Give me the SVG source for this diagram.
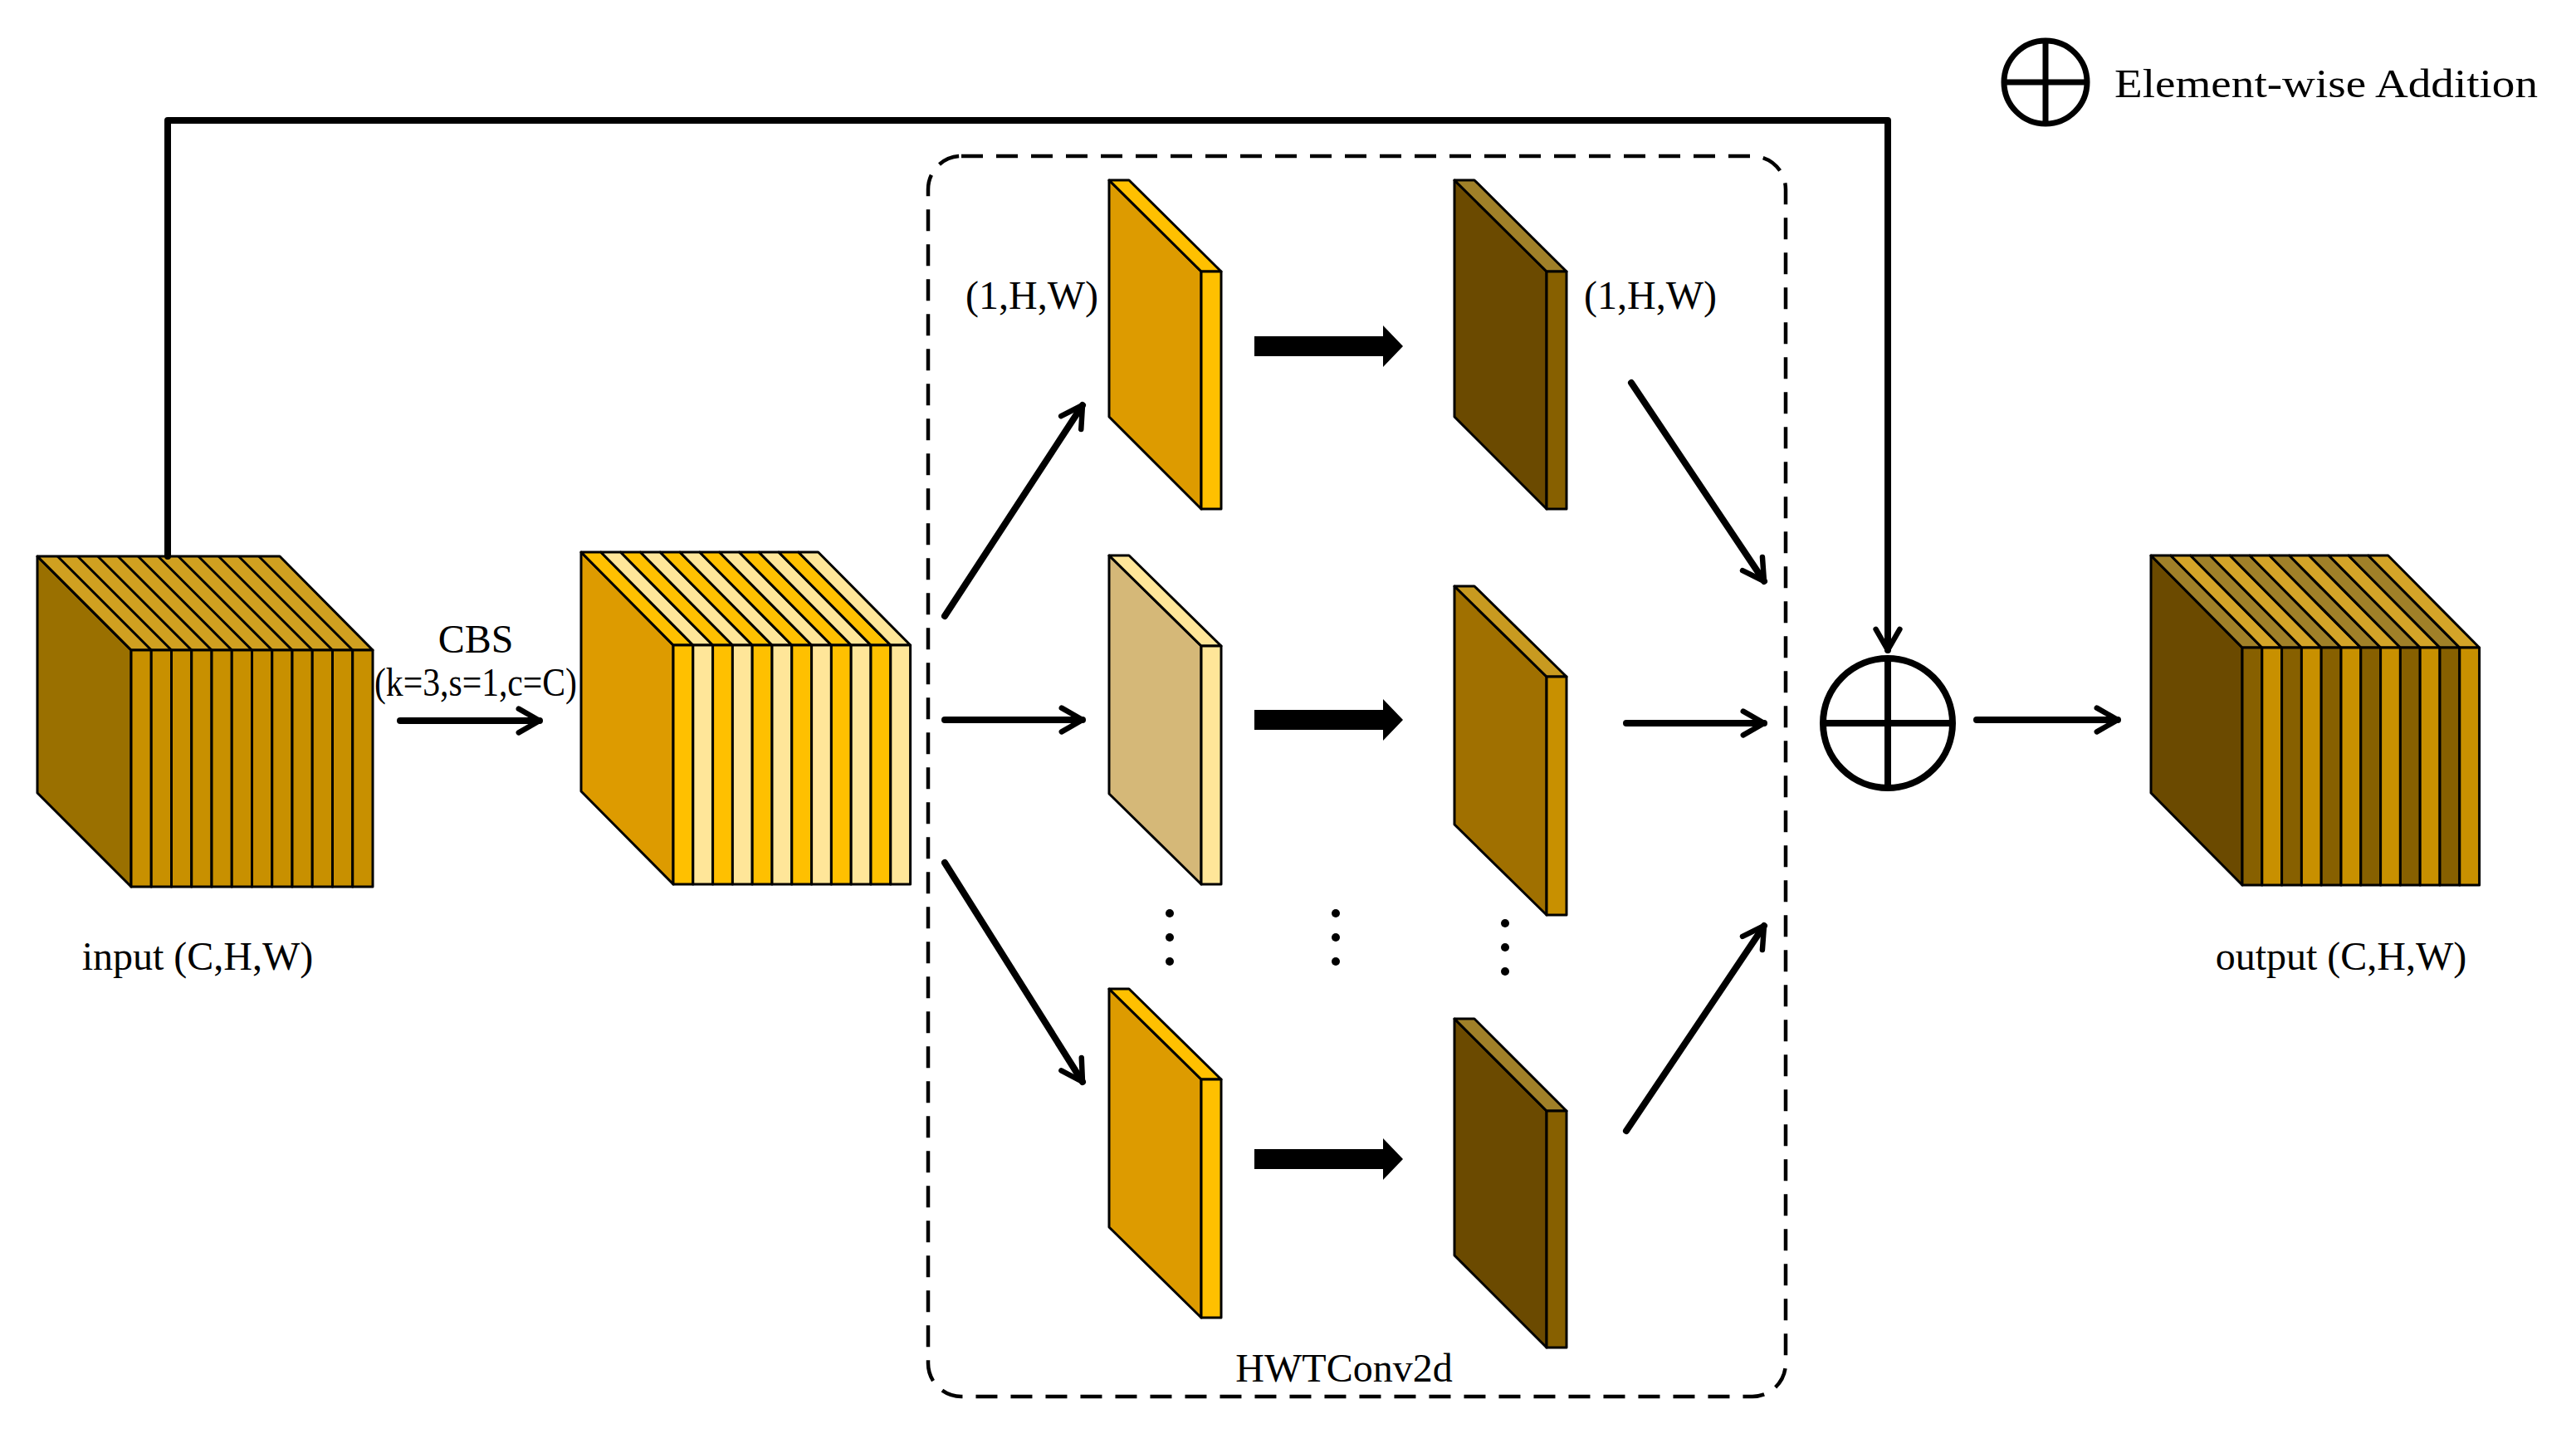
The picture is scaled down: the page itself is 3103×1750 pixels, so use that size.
<svg xmlns="http://www.w3.org/2000/svg" width="3103" height="1750" viewBox="0 0 3103 1750">
<style>
.s{stroke:#000;stroke-width:3;stroke-linejoin:round}
.t{font-family:"Liberation Serif",serif;font-size:48px;fill:#000}
.ar{fill:none;stroke:#000;stroke-width:8;stroke-linecap:round;stroke-linejoin:round}
</style>
<defs>
<marker id="ah" viewBox="0 0 10 10" refX="8" refY="5" markerWidth="4.5" markerHeight="4.5" orient="auto" markerUnits="strokeWidth">
<path d="M1,1 L8,5 L1,9" fill="none" stroke="#000" stroke-width="1.8" stroke-linecap="round" stroke-linejoin="round"/>
</marker>
</defs>
<rect width="3103" height="1750" fill="#fff"/>

<g id="input">
<path class="s" fill="#9a7000" d="M45,670 L158,783 L158,1068 L45,955 Z"/>
<path class="s" fill="#d0a020" d="M45,670 L337,670 L449,783 L158,783 Z"/>
<g class="s" fill="#c89000">
<rect x="158" y="783" width="24.25" height="285"/><rect x="182.25" y="783" width="24.25" height="285"/><rect x="206.5" y="783" width="24.25" height="285"/><rect x="230.75" y="783" width="24.25" height="285"/><rect x="255" y="783" width="24.25" height="285"/><rect x="279.25" y="783" width="24.25" height="285"/><rect x="303.5" y="783" width="24.25" height="285"/><rect x="327.75" y="783" width="24.25" height="285"/><rect x="352" y="783" width="24.25" height="285"/><rect x="376.25" y="783" width="24.25" height="285"/><rect x="400.5" y="783" width="24.25" height="285"/><rect x="424.75" y="783" width="24.25" height="285"/>
</g>
<path class="s" fill="none" d="M69.3,670 L182.25,783 M93.5,670 L206.5,783 M117.8,670 L230.75,783 M142,670 L255,783 M166.3,670 L279.25,783 M190.5,670 L303.5,783 M214.8,670 L327.75,783 M239,670 L352,783 M263.3,670 L376.25,783 M287.5,670 L400.5,783 M311.8,670 L424.75,783"/>
<text class="t" x="238" y="1168" text-anchor="middle">input (C,H,W)</text>
</g>

<g id="cbs">
<path class="s" fill="#dd9b00" d="M700,665 L811,777 L811,1065 L700,953 Z"/>
<g class="s">
<path fill="#ffc000" d="M700,665 L723.8,665 L834.8,777 L811,777 Z"/><path fill="#ffe699" d="M723.8,665 L747.6,665 L858.6,777 L834.8,777 Z"/>
<path fill="#ffc000" d="M747.6,665 L771.4,665 L882.4,777 L858.6,777 Z"/><path fill="#ffe699" d="M771.4,665 L795.2,665 L906.2,777 L882.4,777 Z"/>
<path fill="#ffc000" d="M795.2,665 L819,665 L930,777 L906.2,777 Z"/><path fill="#ffe699" d="M819,665 L842.8,665 L953.8,777 L930,777 Z"/>
<path fill="#ffc000" d="M842.8,665 L866.6,665 L977.6,777 L953.8,777 Z"/><path fill="#ffe699" d="M866.6,665 L890.4,665 L1001.4,777 L977.6,777 Z"/>
<path fill="#ffc000" d="M890.4,665 L914.2,665 L1025.2,777 L1001.4,777 Z"/><path fill="#ffe699" d="M914.2,665 L938,665 L1049,777 L1025.2,777 Z"/>
<path fill="#ffc000" d="M938,665 L961.8,665 L1072.8,777 L1049,777 Z"/><path fill="#ffe699" d="M961.8,665 L985.6,665 L1096.6,777 L1072.8,777 Z"/>
<rect fill="#ffc000" x="811" y="777" width="23.8" height="288"/><rect fill="#ffe699" x="834.8" y="777" width="23.8" height="288"/>
<rect fill="#ffc000" x="858.6" y="777" width="23.8" height="288"/><rect fill="#ffe699" x="882.4" y="777" width="23.8" height="288"/>
<rect fill="#ffc000" x="906.2" y="777" width="23.8" height="288"/><rect fill="#ffe699" x="930" y="777" width="23.8" height="288"/>
<rect fill="#ffc000" x="953.8" y="777" width="23.8" height="288"/><rect fill="#ffe699" x="977.6" y="777" width="23.8" height="288"/>
<rect fill="#ffc000" x="1001.4" y="777" width="23.8" height="288"/><rect fill="#ffe699" x="1025.2" y="777" width="23.8" height="288"/>
<rect fill="#ffc000" x="1049" y="777" width="23.8" height="288"/><rect fill="#ffe699" x="1072.8" y="777" width="23.8" height="288"/>
</g>
</g>

<g id="output">
<path class="s" fill="#6b4a00" d="M2591,669 L2701,780 L2701,1066 L2591,955 Z"/>
<g class="s">
<path fill="#a08028" d="M2591,669 L2614.8,669 L2724.8,780 L2701,780 Z"/><path fill="#d4a428" d="M2614.8,669 L2638.6,669 L2748.6,780 L2724.8,780 Z"/>
<path fill="#a08028" d="M2638.6,669 L2662.4,669 L2772.4,780 L2748.6,780 Z"/><path fill="#d4a428" d="M2662.4,669 L2686.2,669 L2796.2,780 L2772.4,780 Z"/>
<path fill="#a08028" d="M2686.2,669 L2710,669 L2820,780 L2796.2,780 Z"/><path fill="#d4a428" d="M2710,669 L2733.8,669 L2843.8,780 L2820,780 Z"/>
<path fill="#a08028" d="M2733.8,669 L2757.6,669 L2867.6,780 L2843.8,780 Z"/><path fill="#d4a428" d="M2757.6,669 L2781.4,669 L2891.4,780 L2867.6,780 Z"/>
<path fill="#a08028" d="M2781.4,669 L2805.2,669 L2915.2,780 L2891.4,780 Z"/><path fill="#d4a428" d="M2805.2,669 L2829,669 L2939,780 L2915.2,780 Z"/>
<path fill="#a08028" d="M2829,669 L2852.8,669 L2962.8,780 L2939,780 Z"/><path fill="#d4a428" d="M2852.8,669 L2876.6,669 L2986.6,780 L2962.8,780 Z"/>
<rect fill="#876000" x="2701" y="780" width="23.8" height="286"/><rect fill="#c89000" x="2724.8" y="780" width="23.8" height="286"/>
<rect fill="#876000" x="2748.6" y="780" width="23.8" height="286"/><rect fill="#c89000" x="2772.4" y="780" width="23.8" height="286"/>
<rect fill="#876000" x="2796.2" y="780" width="23.8" height="286"/><rect fill="#c89000" x="2820" y="780" width="23.8" height="286"/>
<rect fill="#876000" x="2843.8" y="780" width="23.8" height="286"/><rect fill="#c89000" x="2867.6" y="780" width="23.8" height="286"/>
<rect fill="#876000" x="2891.4" y="780" width="23.8" height="286"/><rect fill="#c89000" x="2915.2" y="780" width="23.8" height="286"/>
<rect fill="#876000" x="2939" y="780" width="23.8" height="286"/><rect fill="#c89000" x="2962.8" y="780" width="23.8" height="286"/>
</g>
<text class="t" x="2820" y="1168" text-anchor="middle">output (C,H,W)</text>
</g>

<g id="hwt">
<rect x="1118" y="188" width="1033" height="1494" rx="40" fill="none" stroke="#000" stroke-width="4.5" stroke-dasharray="26,16"/>
<text class="t" x="1619" y="1664" text-anchor="middle">HWTConv2d</text>
</g>

<g id="plane1" class="s">
<path fill="#dd9b00" d="M1336,217 L1447,327 L1447,613 L1336,502 Z"/>
<path fill="#ffc000" d="M1336,217 L1360,217 L1471,327 L1447,327 Z"/>
<rect fill="#ffc000" x="1447" y="327" width="24" height="286"/>
</g>
<g id="plane2" class="s">
<path fill="#d5b878" d="M1336,669 L1447,778 L1447,1065 L1336,956 Z"/>
<path fill="#ffe699" d="M1336,669 L1360,669 L1471,778 L1447,778 Z"/>
<rect fill="#ffe699" x="1447" y="778" width="24" height="287"/>
</g>
<g id="plane3" class="s">
<path fill="#dd9b00" d="M1336,1191 L1447,1300 L1447,1587 L1336,1478 Z"/>
<path fill="#ffc000" d="M1336,1191 L1360,1191 L1471,1300 L1447,1300 Z"/>
<rect fill="#ffc000" x="1447" y="1300" width="24" height="287"/>
</g>
<g id="plane4" class="s">
<path fill="#6b4a00" d="M1752,217 L1863,327 L1863,613 L1752,502 Z"/>
<path fill="#a08028" d="M1752,217 L1776,217 L1887,327 L1863,327 Z"/>
<rect fill="#876000" x="1863" y="327" width="24" height="286"/>
</g>
<g id="plane5" class="s">
<path fill="#a07000" d="M1752,706 L1863,815 L1863,1102 L1752,993 Z"/>
<path fill="#c89a20" d="M1752,706 L1776,706 L1887,815 L1863,815 Z"/>
<rect fill="#c89000" x="1863" y="815" width="24" height="287"/>
</g>
<g id="plane6" class="s">
<path fill="#6b4a00" d="M1752,1227 L1863,1338 L1863,1623 L1752,1512 Z"/>
<path fill="#a08028" d="M1752,1227 L1776,1227 L1887,1338 L1863,1338 Z"/>
<rect fill="#876000" x="1863" y="1338" width="24" height="285"/>
</g>
<g id="labels">
<text class="t" x="1243" y="372" text-anchor="middle">(1,H,W)</text>
<text class="t" x="1988" y="372" text-anchor="middle">(1,H,W)</text>
<text class="t" x="573" y="786" text-anchor="middle" font-size="42">CBS</text>
<text class="t" x="451" y="838" font-size="40" textLength="244" lengthAdjust="spacingAndGlyphs">(k=3,s=1,c=C)</text>
</g>
<g id="dots" fill="#000">
<circle cx="1409" cy="1100" r="5"/><circle cx="1409" cy="1129" r="5"/><circle cx="1409" cy="1158" r="5"/>
<circle cx="1609" cy="1100" r="5"/><circle cx="1609" cy="1129" r="5"/><circle cx="1609" cy="1158" r="5"/>
<circle cx="1813" cy="1112" r="5"/><circle cx="1813" cy="1141" r="5"/><circle cx="1813" cy="1170" r="5"/>
</g>
<g id="add">
<circle cx="2274" cy="871" r="78" fill="#fff" stroke="#000" stroke-width="8"/>
<path d="M2196,871 H2352 M2274,793 V949" stroke="#000" stroke-width="8"/>
</g>
<g id="legend">
<circle cx="2464" cy="99" r="50" fill="#fff" stroke="#000" stroke-width="7"/>
<path d="M2414,99 H2514 M2464,49 V149" stroke="#000" stroke-width="7"/>
<text class="t" x="2547" y="117" font-size="58" textLength="510" lengthAdjust="spacingAndGlyphs">Element-wise Addition</text>
</g>
<g id="connectors">
<path class="ar" marker-end="url(#ah)" d="M482,868 L650,868"/>
<path class="ar" marker-end="url(#ah)" d="M1138,742 L1304,488"/>
<path class="ar" marker-end="url(#ah)" d="M1138,867 L1304,867"/>
<path class="ar" marker-end="url(#ah)" d="M1138,1039 L1304,1303"/>
<path class="ar" marker-end="url(#ah)" d="M1965,461 L2125,700"/>
<path class="ar" marker-end="url(#ah)" d="M1959,871 L2125,871"/>
<path class="ar" marker-end="url(#ah)" d="M1959,1362 L2125,1115"/>
<path class="ar" marker-end="url(#ah)" d="M2381,867 L2551,867"/>
<path class="ar" marker-end="url(#ah)" stroke-linecap="butt" d="M202,670 V145 H2274 V783"/>
<g fill="#000">
<path d="M1511,405 H1666 V392 L1690,417 L1666,442 V429 H1511 Z"/>
<path d="M1511,855 H1666 V842 L1690,867 L1666,892 V879 H1511 Z"/>
<path d="M1511,1384 H1666 V1371 L1690,1396 L1666,1421 V1408 H1511 Z"/>
</g>
</g>
</svg>
